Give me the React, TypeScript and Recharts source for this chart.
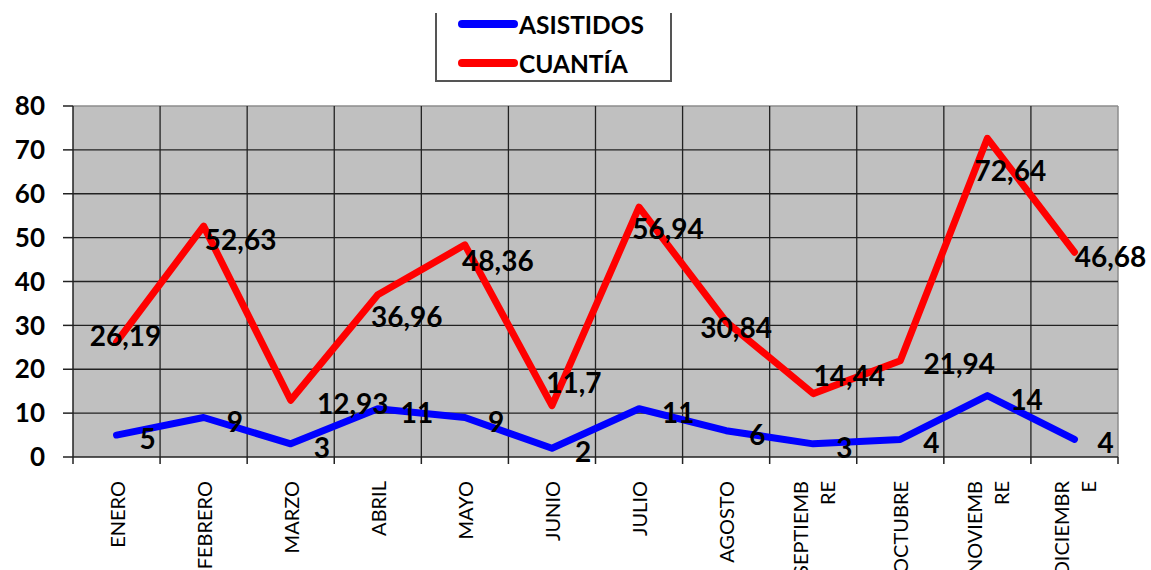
import { LineChart, Line, XAxis, YAxis, CartesianGrid, Legend, LabelList } from "recharts";

const months = ["ENERO", "FEBRERO", "MARZO", "ABRIL", "MAYO", "JUNIO", "JULIO", "AGOSTO", "SEPTIEMBRE", "OCTUBRE", "NOVIEMBRE", "DICIEMBRE"];
// how the month names wrap under the axis
const monthLines = [["ENERO"], ["FEBRERO"], ["MARZO"], ["ABRIL"], ["MAYO"], ["JUNIO"], ["JULIO"], ["AGOSTO"], ["SEPTIEMB", "RE"], ["OCTUBRE"], ["NOVIEMB", "RE"], ["DICIEMBR", "E"]];
const asistidos = [5, 9, 3, 11, 9, 2, 11, 6, 3, 4, 14, 4];
const cuantia = [26.19, 52.63, 12.93, 36.96, 48.36, 11.7, 56.94, 30.84, 14.44, 21.94, 72.64, 46.68];
const yTicks = [0, 10, 20, 30, 40, 50, 60, 70, 80];

const data = months.map((m, i) => ({ month: m, asistidos: asistidos[i], cuantia: cuantia[i] }));

// label nudges, Excel placed these a bit all over the place
const cuantiaLabelShift = [[9, -7], [37, 13], [62, 3], [29, 21], [33, 15], [22, -24], [29, 21], [10, 5], [36, -19], [59, 2], [23, 32], [36, 4]];

const W = 1151;
const H = 570;
const M = { top: 106, right: 33, bottom: 0, left: 0 };
const Y_AXIS_W = 73;
const X_AXIS_H = 113;
const PLOT_W = W - M.right - Y_AXIS_W;
const AXIS_Y = H - X_AXIS_H;
const FONT = "Lato, 'Open Sans', sans-serif";

const fmt = (v: number) => String(v).replace(".", ",");

const MonthTick = (props: any) => {
  const { x, index } = props;
  const half = PLOT_W / months.length / 2;
  const lines = monthLines[index] || [months[index]];
  const n = lines.length;
  return (
    <g>
      <line x1={x - half} x2={x - half} y1={AXIS_Y} y2={AXIS_Y + 7} stroke="#222" strokeWidth={1.5} />
      {index === months.length - 1 && (
        <line x1={x + half} x2={x + half} y1={AXIS_Y} y2={AXIS_Y + 7} stroke="#222" strokeWidth={1.5} />
      )}
      <g transform={`translate(${x},${AXIS_Y + 24}) rotate(-90)`}>
        {lines.map((l, k) => (
          <text
            key={k}
            x={0}
            y={(k - (n - 1) / 2) * 27}
            textAnchor="end"
            dominantBaseline="central"
            fontFamily={FONT}
            fontSize={20}
            fill="#000"
          >
            {l}
          </text>
        ))}
      </g>
    </g>
  );
};

const makeLabel = (shifts: number[][] | null, fallback: number[], anchor: "start" | "middle") => (props: any) => {
  const { x, y, value, index } = props;
  const [dx, dy] = shifts ? shifts[index] : fallback;
  return (
    <text
      x={x + dx}
      y={y + dy}
      textAnchor={anchor}
      dominantBaseline="central"
      fontFamily={FONT}
      fontWeight="bold"
      fontSize={28}
      fill="#000"
    >
      {fmt(value)}
    </text>
  );
};

const LegendBox = () => (
  <div
    style={{
      width: 233,
      height: 67,
      borderLeft: "2px solid #555",
      borderRight: "2px solid #555",
      borderBottom: "2px solid #555",
      background: "#fff",
      position: "relative",
      fontFamily: FONT,
    }}
  >
    {[
      { name: "ASISTIDOS", color: "#0000ff", top: 11 },
      { name: "CUANTÍA", color: "#ff0000", top: 50 },
    ].map((it) => (
      <div key={it.name} style={{ position: "absolute", left: 21, top: it.top - 14, height: 28, display: "flex", alignItems: "center" }}>
        <svg width={60} height={10}>
          <line x1={4} x2={56} y1={5} y2={5} stroke={it.color} strokeWidth={8} strokeLinecap="round" />
        </svg>
        <span style={{ fontSize: 24.5, fontWeight: "bold", color: "#000", marginLeft: 1 }}>{it.name}</span>
      </div>
    ))}
  </div>
);

const App = () => (
  <div style={{ position: "absolute", left: 0, top: 0, width: W, height: H, background: "#fff" }}>
    <LineChart width={W} height={H} data={data} margin={M}>
      <CartesianGrid
        fill="#c0c0c0"
        stroke="#8c8c8c"
        strokeWidth={1.5}
        horizontalCoordinatesGenerator={({ offset }: any) => [offset.top]}
        verticalCoordinatesGenerator={({ offset }: any) => [offset.left + offset.width]}
      />
      <CartesianGrid
        stroke="#222"
        strokeWidth={1.3}
        horizontalCoordinatesGenerator={({ offset }: any) =>
          yTicks.slice(1, -1).map((t) => offset.top + offset.height * (1 - t / yTicks[yTicks.length - 1]))
        }
        verticalCoordinatesGenerator={({ offset }: any) =>
          months.slice(1).map((_, i) => offset.left + ((i + 1) * offset.width) / months.length)
        }
      />
      <XAxis
        dataKey="month"
        scale="band"
        height={X_AXIS_H}
        interval={0}
        tickLine={false}
        axisLine={{ stroke: "#222", strokeWidth: 1.5 }}
        tick={<MonthTick />}
      />
      <YAxis
        width={Y_AXIS_W}
        domain={[0, 80]}
        ticks={yTicks}
        interval={0}
        tickSize={10}
        tickMargin={18}
        axisLine={{ stroke: "#222", strokeWidth: 1.5 }}
        tickLine={{ stroke: "#222", strokeWidth: 1.5 }}
        tick={{ fill: "#000", fontSize: 26, fontWeight: "bold", fontFamily: FONT }}
      />
      <Legend
        layout="vertical"
        align="center"
        verticalAlign="middle"
        content={() => <LegendBox />}
        wrapperStyle={{ left: 435, top: 13, width: 237, height: 69 }}
      />
      <Line
        type="linear"
        dataKey="asistidos"
        name="ASISTIDOS"
        stroke="#0000ff"
        strokeWidth={7}
        strokeLinecap="round"
        strokeLinejoin="round"
        dot={false}
        isAnimationActive={false}
      >
        <LabelList dataKey="asistidos" content={makeLabel(null, [23, 3], "start")} />
      </Line>
      <Line
        type="linear"
        dataKey="cuantia"
        name="CUANTÍA"
        stroke="#ff0000"
        strokeWidth={7}
        strokeLinecap="round"
        strokeLinejoin="round"
        dot={false}
        isAnimationActive={false}
      >
        <LabelList dataKey="cuantia" content={makeLabel(cuantiaLabelShift, [0, 0], "middle")} />
      </Line>
    </LineChart>
  </div>
);

export default App;
